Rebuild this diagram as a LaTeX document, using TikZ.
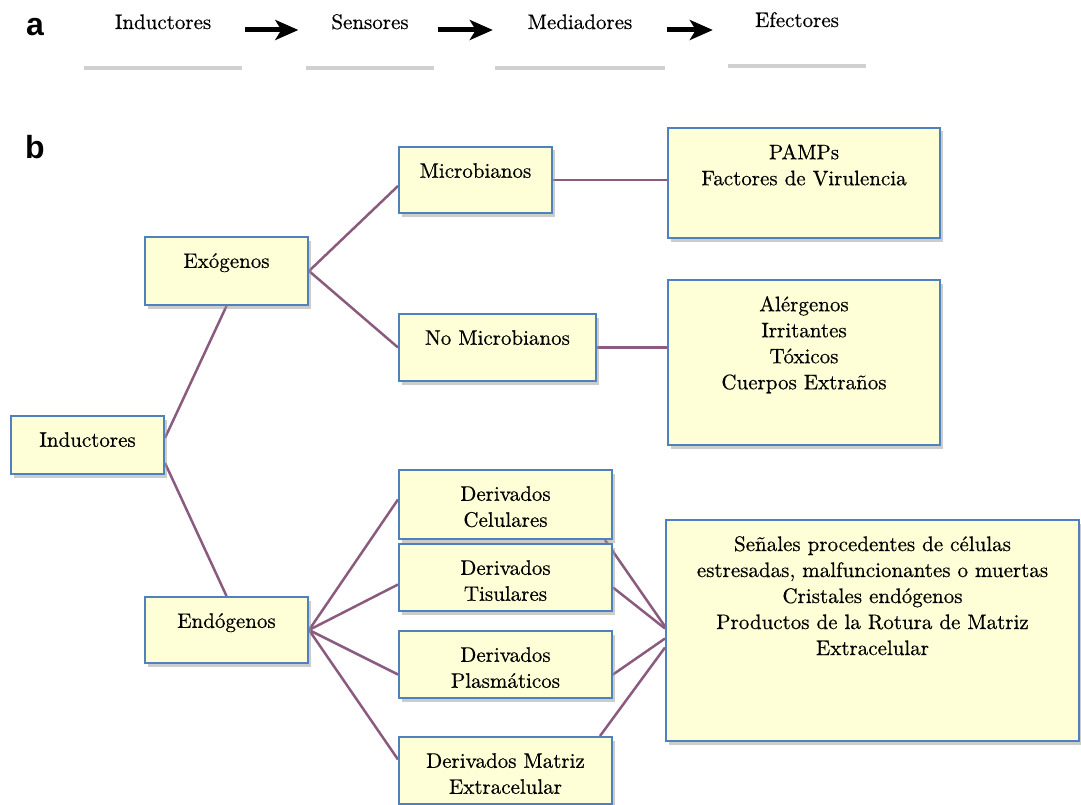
\documentclass[tikz,border=0pt]{standalone}
\usepackage{fontspec}
\setmainfont{lmroman10-regular.otf}[FakeBold=0.5]
\newfontfamily\etiqueta{Liberation Sans}
\usetikzlibrary{arrows.meta, positioning, shadows, backgrounds, calc}
\definecolor{borde}{HTML}{4F81BD}
\definecolor{relleno}{HTML}{FFFFD7}
\definecolor{enlace}{HTML}{8A5B7E}
\definecolor{gris}{HTML}{D0D0D0}
\newcommand{\TamTexto}{\fontsize{21}{26}\selectfont}

\begin{document}
\begin{tikzpicture}[
    x=1pt, y=-1pt,
    caja/.style={rectangle, draw=borde, fill=relleno, line width=2pt, anchor=north west, inner sep=0pt,
                 drop shadow={shadow xshift=2.5pt, shadow yshift=-3.5pt, fill=black!40, opacity=.5}},
    txt/.style={anchor=north, yshift=-17pt, align=center, inner sep=0pt, font=\TamTexto},
    paso/.style={anchor=base, inner sep=0pt, font=\TamTexto},
    raya/.style={draw=gris, line width=3.5pt},
    enl/.style={draw=enlace, line width=2.5pt},
    flecha/.style={-{Stealth[length=23pt, width=20pt, inset=6pt]}, line width=5pt, black},
    letra/.style={anchor=base, inner sep=0pt, font=\etiqueta\bfseries\fontsize{32}{32}\selectfont}
  ]
  \useasboundingbox (0,0) rectangle (1081,805);

  % a: secuencia
  \node[letra] (la) at (35,36) {a};
  \node[paso, minimum width=158pt] (p1) at (163,29) {Inductores};
  \node[paso, minimum width=127pt] (p2) at (370,29) {Sensores};
  \node[paso, minimum width=170pt] (p3) at (580,29) {Mediadores};
  \node[paso, minimum width=138pt] (p4) at (797,27) {Efectores};
  \foreach \p in {p1,p2,p3,p4}
    \draw[raya] ([yshift=-39pt]\p.base west) -- ([yshift=-39pt]\p.base east);
  \draw[flecha] ([xshift=3pt,yshift=-1pt]p1.base east) -- ([xshift=-8pt,yshift=-1pt]p2.base west);
  \draw[flecha] ([xshift=4pt,yshift=-1pt]p2.base east) -- ([xshift=-2pt,yshift=-1pt]p3.base west);
  \draw[flecha] ([xshift=2pt,yshift=-1pt]p3.base east) -- ([xshift=-15pt,yshift=-1pt]p3.base east -| p4.base west);

  % b: arbol de inductores
  \node[letra] (lb) at (35,159) {b};
  \node[caja, minimum width=153pt, minimum height=58pt, label={[txt, name=t-ind]north:Inductores}] (ind) at (10,415) {};
  \node[caja, minimum width=163pt, minimum height=68pt, label={[txt, name=t-exo]north:Exógenos}] (exo) at (144,236) {};
  \node[caja, minimum width=163pt, minimum height=66pt, label={[txt, name=t-endo]north:Endógenos}] (endo) at (144,596) {};
  \node[caja, minimum width=153pt, minimum height=66pt, label={[txt, name=t-micro]north:Microbianos}] (micro) at (398,146) {};
  \node[caja, minimum width=197pt, minimum height=67pt, label={[txt, name=t-nomicro]north:No Microbianos}] (nomicro) at (398,313) {};
  \node[caja, minimum width=272pt, minimum height=110pt,
        label={[txt, name=t-pamps]north:{PAMPs\\Factores de Virulencia}}] (pamps) at (667,127) {};
  \node[caja, minimum width=272pt, minimum height=165pt,
        label={[txt, name=t-alerg]north:{Alérgenos\\Irritantes\\Tóxicos\\Cuerpos Extraños}}] (alerg) at (667,279) {};
  \node[caja, minimum width=213pt, minimum height=69pt, label={[txt, name=t-celul]north:{Derivados\\Celulares}}] (celul) at (398,469) {};
  \node[caja, minimum width=213pt, minimum height=67pt, label={[txt, name=t-tisul]north:{Derivados\\Tisulares}}] (tisul) at (398,543) {};
  \node[caja, minimum width=213pt, minimum height=67pt, label={[txt, name=t-plasm]north:{Derivados\\Plasmáticos}}] (plasm) at (398,630) {};
  \node[caja, minimum width=213pt, minimum height=67pt, label={[txt, name=t-matriz]north:{Derivados Matriz\\Extracelular}}] (matriz) at (398,736) {};
  \node[caja, minimum width=413pt, minimum height=221pt,
        label={[txt, name=t-senal]north:{Señales procedentes de células\\estresadas, malfuncionantes o muertas\\Cristales endógenos\\Productos de la Rotura de Matriz\\Extracelular}}] (senal) at (665,519) {};

  \begin{scope}[on background layer]
    \draw[enl] ([yshift=7pt]ind.east) -- (exo.south);
    \draw[enl] ([yshift=-18pt]ind.east) -- (endo.north);
    \draw[enl] (exo.east) -- ([yshift=-6pt]micro.west);
    \draw[enl] (exo.east) -- (nomicro.west);
    \draw[enl] (micro.east) -- (micro.east -| pamps.west);
    \draw[enl] (nomicro.east) -- (nomicro.east -| alerg.west);
    \draw[enl] (endo.east) -- ([yshift=5pt]celul.west);
    \draw[enl] (endo.east) -- ([yshift=-7pt]tisul.west);
    \draw[enl] (endo.east) -- ([yshift=-10pt]plasm.west);
    \draw[enl] (endo.east) -- ([yshift=11pt]matriz.west);
    \draw[enl] ([xshift=-8pt]celul.south east) -- ([yshift=4pt]senal.west);
    \draw[enl] ([yshift=-10pt]tisul.east) -- ([yshift=2pt]senal.west);
    \draw[enl] ([yshift=-10pt]plasm.east) -- ([yshift=-8pt]senal.west);
    \draw[enl] ([xshift=-13pt]matriz.north east) -- ([yshift=-17pt]senal.west);
  \end{scope}
\end{tikzpicture}
\end{document}
